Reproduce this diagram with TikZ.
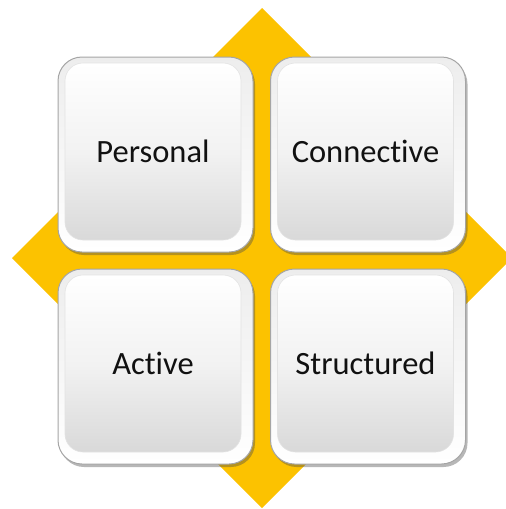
\documentclass[tikz,border=0pt]{standalone}
\usepackage{fontspec}
\setmainfont{Carlito}[Ligatures=NoCommon]
\usetikzlibrary{shadows}
\definecolor{gold}{RGB}{252,194,0}
\definecolor{rimline}{RGB}{165,165,165}
\definecolor{txt}{RGB}{17,17,17}
\tikzset{
  outerbox/.style={rounded corners=24pt, minimum width=195pt, minimum height=195pt,
    inner sep=0pt, draw=rimline, line width=1pt,
    top color=gray!14, bottom color=white,
    drop shadow={shadow xshift=2pt, shadow yshift=-3pt, opacity=.4, fill=black!70}},
  innerbox/.style={rounded corners=18pt, minimum width=176pt, minimum height=177pt,
    inner sep=0pt, draw=gray!22, line width=.6pt,
    top color=white, bottom color=gray!30, middle color=gray!10,
    font=\fontsize{32.5}{38}\selectfont, text=txt},
}
\begin{document}
\begin{tikzpicture}[x=1pt,y=-1pt]
\useasboundingbox (0,0) rectangle (506,509);
\fill[gold] (262,8) -- (512,258) -- (262,508) -- (12,258) -- cycle;
% outer frames
\node[outerbox] (po) at (155.5,154.5) {};
\node[outerbox] (co) at (368,154.5) {};
\node[outerbox] (ao) at (155.5,366.5) {};
\node[outerbox] (so) at (368,366.5) {};
% inner panels with labels
\node[innerbox] (p) at ([xshift=-2.5pt,yshift=3pt]po.center) {Personal};
\node[innerbox] (c) at ([xshift=-2.5pt,yshift=3pt]co.center) {Connective};
\node[innerbox] (a) at ([xshift=-2.5pt,yshift=3pt]ao.center) {Active};
\node[innerbox] (s) at ([xshift=-2.5pt,yshift=3pt]so.center) {Structured};
\end{tikzpicture}
\end{document}
